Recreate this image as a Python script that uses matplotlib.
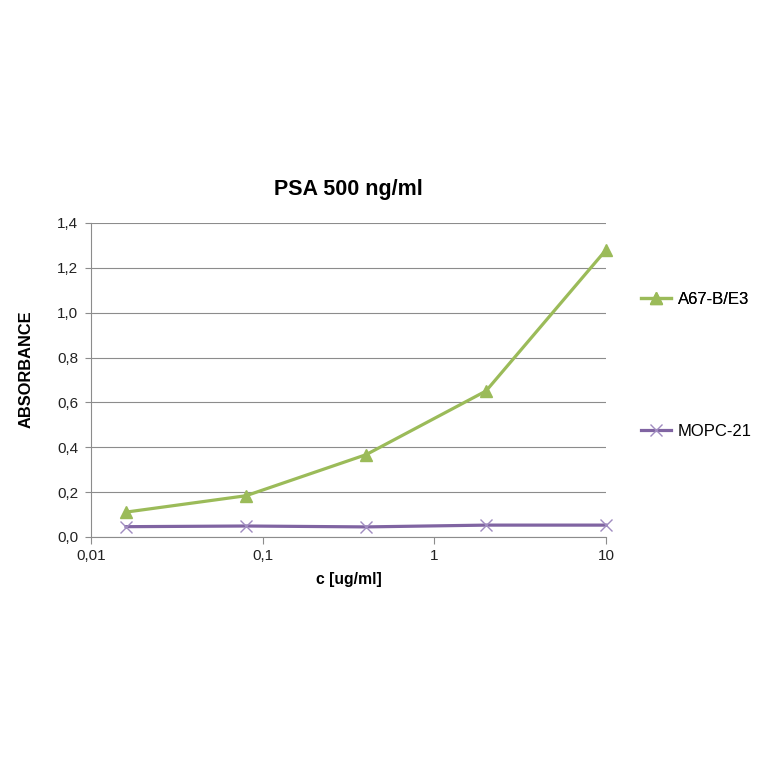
import numpy as np
import matplotlib.pyplot as plt
from matplotlib.ticker import FixedLocator, NullLocator, FuncFormatter
from matplotlib.lines import Line2D

plt.rcParams['font.family'] = ['Liberation Sans', 'DejaVu Sans']

# concentrations (5-fold dilutions) and absorbance readings
conc = [0.016, 0.08, 0.4, 2, 10]
a67 = [0.111, 0.184, 0.367, 0.651, 1.28]
mopc = [0.046, 0.049, 0.045, 0.053, 0.053]

green = '#9bbb59'
purple = '#8064a2'

fig = plt.figure(figsize=(7.64, 7.64), dpi=100)
ax = fig.add_axes([91/764, 1 - 537/764, 515/764, 314/764])

ax.plot(conc, a67, color=green, lw=2.3, marker='^', ms=8, mec=green, mfc=green, clip_on=False, zorder=3)
ax.plot(conc, mopc, color=purple, lw=2.3, marker='x', ms=9, mec='#a08cc0', mew=1.0, clip_on=False, zorder=3)

ax.set_xscale('log')
ax.set_xlim(0.01, 10)
ax.set_ylim(0, 1.4)
ax.xaxis.set_major_locator(FixedLocator([0.01, 0.1, 1, 10]))
ax.xaxis.set_minor_locator(NullLocator())
ax.xaxis.set_major_formatter(FuncFormatter(lambda v, p: ('%g' % v).replace('.', ',')))
ax.set_yticks(np.arange(0, 1.41, 0.2))
ax.yaxis.set_major_formatter(FuncFormatter(lambda v, p: ('%.1f' % v).replace('.', ',')))

ax.grid(axis='y', color='#8c8c8c', lw=0.8)
ax.set_axisbelow(True)
for s in ['top', 'right']:
    ax.spines[s].set_visible(False)
ax.spines['left'].set_color('#8c8c8c')
ax.spines['bottom'].set_color('#8c8c8c')
ax.tick_params(axis='both', colors='#8c8c8c', labelcolor='#222222', labelsize=11, length=4)
ax.tick_params(axis='x', length=5, pad=4)
ax.tick_params(axis='y', pad=5)

ax.set_title('PSA 500 ng/ml', fontsize=15.5, fontweight='bold', pad=20)
ax.set_xlabel('c [ug/ml]', fontsize=11.3, fontweight='bold', labelpad=6)
ax.set_ylabel('ABSORBANCE', fontsize=11.8, fontweight='bold')
ax.yaxis.set_label_coords(-0.111, 0.533)

h1 = Line2D([], [], color=green, lw=2.3, marker='^', ms=8)
h2 = Line2D([], [], color=purple, lw=2.3, marker='x', ms=9, mec='#a08cc0', mew=1.0)
leg1 = fig.legend([h1], ['A67-B/E3'], loc='center left', bbox_to_anchor=(626/764, 1 - 299/764),
                  frameon=False, fontsize=12, handlelength=1.8, handletextpad=0.4)
fig.add_artist(leg1)
fig.legend([h2], ['MOPC-21'], loc='center left', bbox_to_anchor=(626/764, 1 - 431/764),
           frameon=False, fontsize=12, handlelength=1.8, handletextpad=0.4)

fig.savefig('out.png', dpi=100)
